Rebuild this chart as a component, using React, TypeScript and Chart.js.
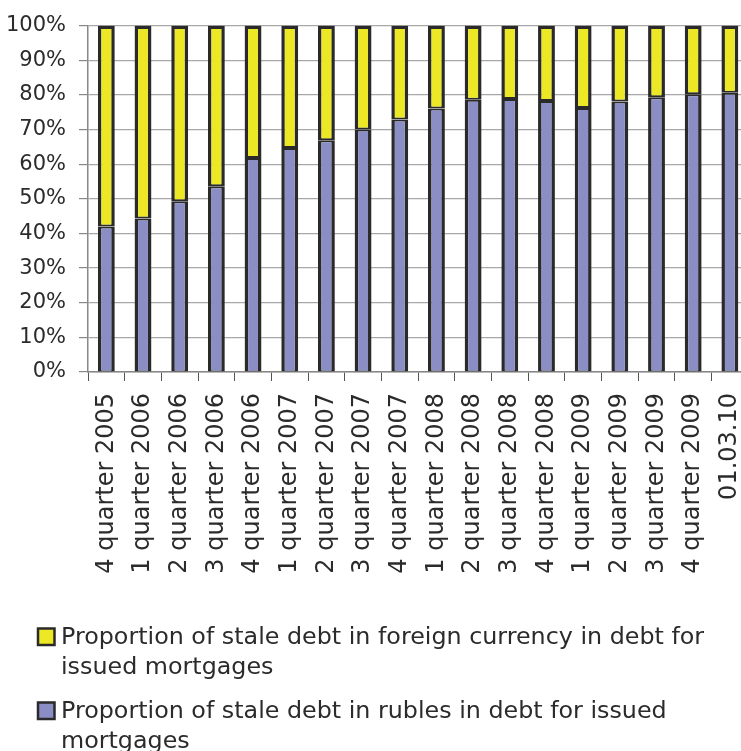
import { useEffect, useRef } from "react";
import { Chart, registerables } from "chart.js";

Chart.register(...registerables);

const categories = [
  "4 quarter 2005",
  "1 quarter 2006",
  "2 quarter 2006",
  "3 quarter 2006",
  "4 quarter 2006",
  "1 quarter 2007",
  "2 quarter 2007",
  "3 quarter 2007",
  "4 quarter 2007",
  "1 quarter 2008",
  "2 quarter 2008",
  "3 quarter 2008",
  "4 quarter 2008",
  "1 quarter 2009",
  "2 quarter 2009",
  "3 quarter 2009",
  "4 quarter 2009",
  "01.03.10",
];

const rublesShare = [42.0, 44.3, 49.3, 53.6, 61.8, 64.7, 66.9, 70.0, 72.9, 76.1, 78.6, 78.8, 78.2, 76.2, 78.1, 79.3, 80.2, 80.6];
const foreignShare = [58.0, 55.7, 50.7, 46.4, 38.2, 35.3, 33.1, 30.0, 27.1, 23.9, 21.4, 21.2, 21.8, 23.8, 21.9, 20.7, 19.8, 19.4];

const yTickValues = [0, 10, 20, 30, 40, 50, 60, 70, 80, 90, 100];

const legendForeignLines = ["Proportion of stale debt in foreign currency in debt for", "issued mortgages"];
const legendRublesLines = ["Proportion of stale debt in rubles in debt for issued", "mortgages"];

const BLUE = "#8a8ec4";
const YELLOW = "#ece826";
const EDGE = "#2a2a2a";
const TEXT = "#2b2b2b";
const FONT = "'DejaVu Sans', sans-serif";

const wrappedLegend = {
  id: "wrappedLegend",
  afterDraw(chart: any) {
    const ctx = chart.ctx;
    const ds = chart.data.datasets;
    const items = [
      { lines: legendForeignLines, color: ds[1].backgroundColor },
      { lines: legendRublesLines, color: ds[0].backgroundColor },
    ];
    const startY = 638;
    const lineH = 30;
    const itemGap = 44;
    ctx.save();
    ctx.font = `23.8px ${FONT}`;
    ctx.textBaseline = "middle";
    ctx.textAlign = "left";
    let y = startY;
    items.forEach((it) => {
      ctx.fillStyle = it.color;
      ctx.fillRect(38, y - 9.5, 16.5, 16.5);
      ctx.strokeStyle = EDGE;
      ctx.lineWidth = 2.5;
      ctx.strokeRect(38, y - 9.5, 16.5, 16.5);
      ctx.fillStyle = TEXT;
      it.lines.forEach((ln: string, i: number) => {
        ctx.fillText(ln, 61, y + i * lineH);
      });
      y += lineH + itemGap;
    });
    ctx.restore();
  },
};

export default function App() {
  const ref = useRef<HTMLCanvasElement>(null);
  useEffect(() => {
    const chart = new Chart(ref.current!, {
      type: "bar",
      data: {
        labels: categories,
        datasets: [
          {
            label: "Proportion of stale debt in rubles in debt for issued mortgages",
            data: rublesShare,
            backgroundColor: BLUE,
            borderColor: EDGE,
            borderWidth: { left: 3.5, right: 3.5, top: 2, bottom: 1 },
            borderSkipped: false,
            categoryPercentage: 1,
            barPercentage: 0.46,
          },
          {
            label: "Proportion of stale debt in foreign currency in debt for issued mortgages",
            data: foreignShare,
            backgroundColor: YELLOW,
            borderColor: EDGE,
            borderWidth: { left: 3.5, right: 3.5, top: 3.5, bottom: 2 },
            borderSkipped: false,
            categoryPercentage: 1,
            barPercentage: 0.46,
          },
        ],
      },
      options: {
        responsive: false,
        animation: false,
        layout: { padding: { top: 25, right: 12, bottom: 149, left: 0 } },
        plugins: { legend: { display: false }, tooltip: { enabled: false } },
        scales: {
          x: {
            stacked: true,
            grid: { drawOnChartArea: false, offset: true, tickLength: 9, color: "#555", lineWidth: 1 },
            border: { color: "#888", width: 1.5 },
            ticks: {
              autoSkip: false,
              minRotation: 90,
              maxRotation: 90,
              padding: 12,
              color: TEXT,
              font: { family: FONT, size: 24 },
            },
            afterFit: (s: any) => {
              s.height = 230;
            },
          },
          y: {
            stacked: true,
            min: 0,
            max: 100,
            afterBuildTicks: (s: any) => {
              s.ticks = yTickValues.map((v) => ({ value: v }));
            },
            grid: { color: "#a8a8a8", lineWidth: 1.2, tickLength: 9, tickColor: "#888" },
            border: { color: "#888", width: 1.5 },
            ticks: {
              padding: 13,
              color: TEXT,
              font: { family: FONT, size: 21 },
              callback: (v: any) => `${v}%`,
            },
            afterFit: (s: any) => {
              s.width = 88;
            },
          },
        },
      },
      plugins: [wrappedLegend],
    });
    return () => chart.destroy();
  }, []);
  return (
    <div style={{ position: "fixed", left: 0, top: 0, width: 741, height: 751, overflow: "hidden", background: "#fff" }}>
      <canvas ref={ref} width={771} height={751} style={{ display: "block" }} />
    </div>
  );
}
